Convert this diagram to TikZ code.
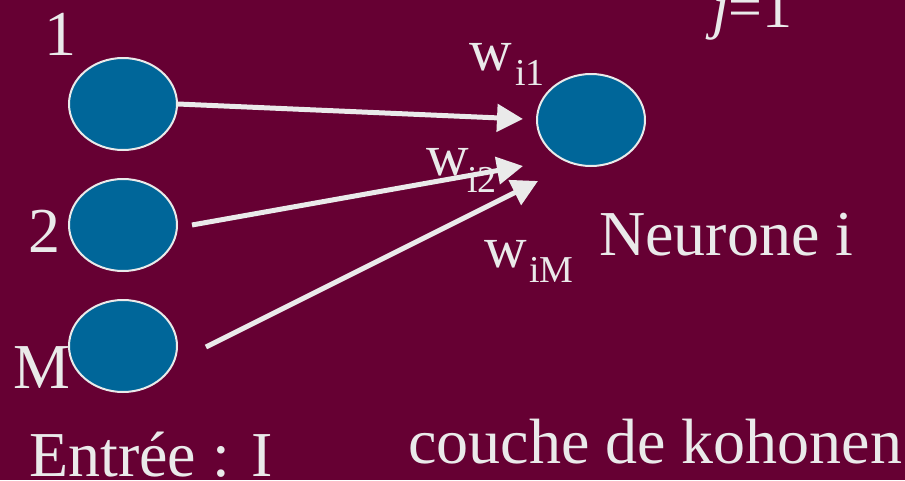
\documentclass[tikz,border=0pt]{standalone}
\usepackage{fontspec}
\setmainfont{Liberation Serif}
\usetikzlibrary{arrows.meta,shapes.geometric}
\definecolor{bgc}{HTML}{660033}
\definecolor{cellc}{HTML}{006699}
\definecolor{inkc}{HTML}{EAEAEA}
\tikzset{
  cell/.style={ellipse, draw=inkc, line width=2pt, fill=cellc, inner sep=0pt,
    minimum width=108pt, minimum height=92pt},
  big/.style={text=inkc, inner sep=0pt, font=\fontsize{64}{70}\selectfont},
  wlab/.style={text=inkc, inner sep=0pt, anchor=base west, font=\fontsize{59}{66}\selectfont},
  sublab/.style={text=inkc, inner sep=0pt, anchor=base west, font=\fontsize{38}{44}\selectfont},
  link/.style={draw=inkc, line width=5pt, -{Triangle[length=26pt,width=27pt]}}
}
\begin{document}
\begin{tikzpicture}[x=1pt,y=-1pt]
\useasboundingbox (0,0) rectangle (905,480);
\fill[bgc] (0,0) rectangle (905,480);
% cells
\node[cell] (in1) at (123,104) {};
\node[cell] (in2) at (123,225) {};
\node[cell] (inM) at (123,346) {};
\node[cell] (neu) at (591,120) {};
% labels
\node[big, anchor=base] (l1) at (60,55) {1};
\node[big, anchor=base] (l2) at (44,252) {2};
\node[big, anchor=base] (lM) at (42,388) {M};
\node[big, anchor=base west] (lneu) at (599,255) {Neurone i};
\node[big, anchor=base west] (lin) at (29,476) {Entrée : I};
\node[big, anchor=base west] (lcouche) at (408,463) {couche de kohonen};
\node[text=inkc, inner sep=0pt, anchor=base west, font=\fontsize{60}{66}\selectfont] (lj) at (712,27) {\textit{j}=1};
% weights
\node[wlab] (w1) at (469,70) {w};
\node[sublab] (s1) at (515,85) {i1};
\node[wlab] (w2) at (426,175) {w};
\node[sublab] (s2) at (467,192) {i2};
\node[wlab] (wM) at (484,267) {w};
\node[sublab] (sM) at (529,282) {iM};
% arrow tips
\coordinate (t1) at (523,119);
\coordinate (t2) at (523,166);
\coordinate (tM) at (538,181);
\coordinate (a2) at (192,225);
\coordinate (aM) at (206,347);
\draw[link] (in1.east) -- (t1);
\draw[link] (a2) -- (t2);
\draw[link] (aM) -- (tM);
\end{tikzpicture}
\end{document}
